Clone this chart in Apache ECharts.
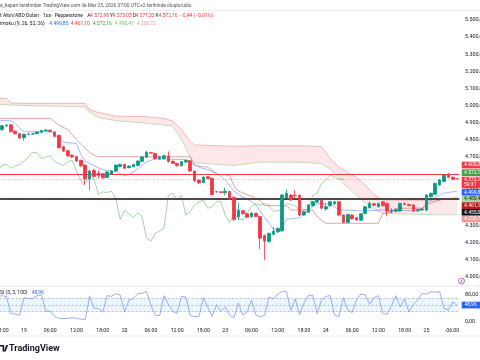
<!DOCTYPE html>
<html><head><meta charset="utf-8">
<script src="https://cdn.jsdelivr.net/npm/echarts@6/dist/echarts.min.js"></script>
<style>html,body{margin:0;padding:0;background:#fff;overflow:hidden;width:480px;height:360px;position:relative}#c{position:absolute;left:-5px;top:0;width:485px;height:360px}</style>
</head><body><div id="c"></div>
<script>
// trading sessions shown (day, first hour, last hour) -> hourly categories
const sessions = [['18',17,22],['19',0,22],['20',0,22],['23',0,22],['24',0,22],['25',0,7]];
const categories = [];
sessions.forEach(([d,a,b])=>{for(let h=a;h<=b;h++)categories.push(d+' '+String(h).padStart(2,'0')+':00');});
const timeTicks = ['00:00','06:00','12:00','18:00'];

// candles [open, close, low, high]
const ohlc = [
[4862,4878,4855,4884],[4860,4882,4852,4888],[4882,4886,4876,4892],[4888,4848,4842,4894],[4850,4836,4830,4856],
[4836,4810,4804,4840],[4812,4832,4796,4836],[4832,4834,4826,4840],[4834,4836,4830,4840],[4836,4846,4832,4850],
[4844,4854,4840,4858],[4853,4857,4850,4862],[4856,4848,4844,4860],[4846,4820,4814,4850],[4826,4754,4748,4830],
[4760,4734,4728,4764],[4736,4707,4698,4740],[4710,4700,4694,4714],[4702,4676,4670,4706],[4680,4648,4642,4684],
[4652,4572,4536,4656],[4572,4617,4506,4625],[4620,4586,4580,4630],[4606,4592,4575,4622],[4602,4578,4572,4606],
[4580,4612,4576,4616],[4600,4618,4596,4622],[4618,4652,4614,4656],[4644,4656,4640,4660],[4656,4634,4630,4660],
[4637,4647,4633,4651],[4643,4656,4640,4660],[4650,4676,4646,4680],[4674,4700,4670,4704],[4698,4728,4694,4735],
[4726,4722,4718,4730],[4720,4690,4686,4724],[4688,4700,4684,4704],[4690,4707,4686,4712],[4706,4672,4668,4732],
[4674,4662,4658,4680],[4662,4648,4644,4666],[4648,4672,4644,4676],[4670,4680,4666,4684],[4678,4617,4612,4682],
[4617,4560,4554,4620],[4565,4548,4542,4569],[4550,4582,4546,4586],[4584,4574,4570,4588],[4575,4480,4474,4580],
[4498,4496,4490,4502],[4496,4492,4488,4500],[4490,4500,4475,4520],[4498,4456,4450,4502],[4464,4335,4325,4468],
[4350,4388,4330,4430],[4386,4368,4362,4390],[4368,4348,4342,4372],[4350,4372,4346,4376],[4370,4352,4346,4374],
[4352,4225,4160,4356],[4240,4208,4097,4246],[4206,4253,4198,4258],[4248,4266,4240,4290],[4262,4282,4255,4288],
[4268,4477,4262,4482],[4460,4487,4455,4510],[4477,4448,4444,4482],[4476,4474,4460,4506],[4476,4360,4354,4480],
[4360,4380,4356,4384],[4376,4419,4372,4424],[4415,4438,4410,4442],[4436,4446,4430,4450],[4446,4400,4394,4450],
[4396,4409,4385,4428],[4415,4438,4410,4442],[4426,4438,4420,4442],[4438,4360,4355,4442],[4360,4317,4312,4364],
[4317,4364,4313,4368],[4360,4338,4334,4364],[4345,4331,4326,4350],[4330,4368,4326,4372],[4370,4409,4366,4414],
[4403,4428,4398,4440],[4426,4418,4412,4430],[4409,4428,4405,4432],[4438,4415,4410,4442],[4428,4382,4352,4432],
[4380,4386,4370,4400],[4382,4392,4376,4396],[4384,4428,4380,4432],[4428,4422,4418,4432],[4422,4416,4412,4426],
[4419,4384,4380,4424],[4386,4392,4380,4396],[4390,4396,4385,4400],[4389,4477,4385,4482],[4467,4487,4462,4492],
[4482,4545,4478,4550],[4536,4565,4532,4570],[4556,4594,4552,4600],[4598,4581,4576,4606],[4581,4569,4564,4586],
[4572.98,4572.16,4571.33,4573.03]
];

// lagging span (drawn 26 bars back), one value per bar from the left edge
const chikou = [4618,4652,4656,4634,4647,4656,4676,4700,4728,4722,4690,4700,4707,4672,4662,4648,4672,4680,4617,4560,
4548,4582,4574,4480,4496,4492,4500,4456,4335,4388,4368,4348,4372,4352,4225,4208,4253,4266,4282,4477,
4487,4448,4474,4360,4380,4419,4438,4446,4400,4409,4438,4438,4360,4317,4364,4338,4331,4368,4409,4428,
4418,4428,4415,4382,4386,4392,4428,4422,4416,4384,4392,4396,4477,4487,4545,4565,4594,4581,4569,4572.16];

// conversion line (bar index, price)
const tenkan = [[0,4912],[3,4912],[4,4895],[5,4868],[6,4847],[12,4847],[13,4830],[15,4785],[18,4779],[19,4715],[20,4675],
[23,4635],[25,4620],[27,4614],[29,4590],[30,4598],[32,4630],[34,4670],[36,4688],[43,4684],[44,4672],[46,4640],[48,4625],
[50,4605],[52,4565],[54,4500],[56,4465],[58,4440],[59,4420],[61,4345],[63,4280],[64,4265],[65,4280],[66,4335],[69,4345],
[71,4390],[73,4428],[76,4425],[78,4390],[80,4388],[84,4384],[88,4390],[91,4389],[96,4384],[97,4400],[98,4425],[100,4465],
[102,4488],[105,4500]];

// base line (bar index, price)
const kijun = [[0,4925],[12,4925],[13,4905],[14,4885],[16,4860],[17,4830],[18,4800],[19,4775],[20,4750],[21,4725],[22,4710],
[23,4701],[44,4701],[45,4650],[48,4640],[49,4620],[50,4600],[53,4592],[54,4530],[55,4500],[58,4470],[60,4445],[61,4415],
[66,4415],[67,4390],[72,4390],[73,4350],[75,4312],[87,4312],[88,4368],[90,4378],[91,4400],[97,4400],[98,4420],[100,4440],
[102,4455],[105,4461]];

// cloud edges at bar indices
const cloudK = [0,2,3,6,20,21,23,27,34,38,40,42,44,45,54,60,70,74,76,78,80,82,84,86,88,99,105];
const spanB  = [5042,5042,5015,5013,5013,4975,4960,4938,4935,4925,4910,4860,4790,4770,4762,4765,4765,4760,4690,4640,4610,4580,4536,4480,4448,4446,4456];
const spanA  = [5007,5005,5003,5000,4993,4960,4930,4912,4896,4886,4880,4800,4700,4665,4650,4670,4668,4660,4630,4575,4520,4478,4430,4395,4370,4362,4362];

// oscillator
const rsi = [75,78,75,25,23,19,72,69,70,78, 80,31,32,16,10,9,10,12,10,8, 6,76,40,40,29,78,76,84,80,29,
65,69,84,85,90,50,19,18,78,52, 31,25,76,74,19,15,16,72,44,16, 51,31,44,20,12,56,20,29,65,20,
14,19,74,68,83,90,90,33,68,21, 56,78,80,25,65,76,78,19,16,72, 35,27,65,83,80,52,72,78,25,22,
48,78,44,68,29,51,65,85,82,90, 88,90,40,35,59,48.96];
const rsiBands = [30,50,70];

// horizontal levels
const levels = {resistance:4600, lastPrice:4572.16, faint:4472, support:4455};
// right-hand price tags
const tagValues = [4600, 4572.16, 4572.16, 4499.85, 4480.47, 4461.10, 4455, 4350.72];

function fmt(v){const s=Number(v).toFixed(2);let [i,d]=s.split('.');i=i.replace(/\B(?=(\d{3})+(?!\d))/g,'.');return i+','+d;}

const FONT = 'Roboto, "Noto Sans", sans-serif';
const OX = 5;                 // chart canvas is shifted 5px left of the page
const GL = 0.56, GR = 20.7;
const chart = echarts.init(document.getElementById('c'));

const txt=(text,x,y,fill,size,weight,z)=>({type:'text',x:x+OX,y:y,z:z||60,silent:true,
  style:{text:text,fill:fill,font:(weight||'normal')+' '+(size||5)+'px '+FONT,verticalAlign:'middle',align:'left'}});
const hline=(y,color,w)=>({type:'line',z:40,silent:true,shape:{x1:0,y1:y,x2:485,y2:y},style:{stroke:color,lineWidth:w||1}});
const rect=(x,y,w,h,fill,z)=>({type:'rect',z:z||60,silent:true,shape:{x:x+OX,y:y,width:w+2,height:h},style:{fill:fill}});

const tagStyles = [
 {top:161.7,h:6.7,fill:'#f23645',c:'#fff'},
 {top:169.3,h:6.7,fill:'#43a047',c:'#fff'},
 {top:176.7,h:11.6,fill:'#f23645',c:'#fff',extra:'59:31'},
 {top:189.0,h:6.7,fill:'#2962ff',c:'#fff'},
 {top:195.7,h:6.7,fill:'#a5d6a7',c:'#131722'},
 {top:202.3,h:6.7,fill:'#b71c1c',c:'#fff'},
 {top:209.0,h:6.7,fill:'#131722',c:'#fff'},
 {top:215.7,h:6.7,fill:'#ef9a9a',c:'#fff'}
];
const pt=(x,y)=>[x+OX,y];
const graphics = [
  hline(10.5,'#eceef2',1), hline(286,'#e0e3eb',1), hline(336,'#eceef2',1),
  txt('a_kapan tarafından TradingView.com ile Mar 25, 2026 07:00 UTC+2 tarihinde oluşturuldu',0,6,'#50535e',4.9),
  txt('t Altın/ABD Doları · 1sa · Pepperstone',0,16,'#131722',5),
  txt('A',87.3,16,'#131722',5), txt(fmt(ohlc[105][0]),90,16,'#f23645',5),
  txt('Y',110,16,'#131722',5), txt(fmt(ohlc[105][3]),112.6,16,'#f23645',5),
  txt('D',132.7,16,'#131722',5), txt(fmt(ohlc[105][2]),135.5,16,'#f23645',5),
  txt('K',155.6,16,'#131722',5), txt(fmt(ohlc[105][1]),158.4,16,'#f23645',5),
  txt('−0,44 (−0,01%)',180,16,'#f23645',5),
  txt('imoku (9, 26, 52, 26)',0,24,'#131722',5),
  txt(fmt(4499.85),49.3,24,'#2962ff',5), txt(fmt(4461.10),70.7,24,'#e53935',5),
  txt(fmt(4572.16),92.7,24,'#43a047',5), txt(fmt(4480.47),114.7,24,'#81c784',5),
  txt(fmt(4350.72),136.7,24,'#ef9a9a',5),
  txt('SI (3, 3, 100)',0,292.3,'#131722',5), txt('48,96',31.7,292.3,'#2962ff',5),
  rect(461.7,301.7,18.3,6.7,'#2962ff',70),
  txt('48,96',464.5,305.05,'#fff',5,'normal',80),
  {type:'circle',z:60,silent:true,shape:{cx:461.5+OX,cy:281,r:3},style:{fill:'#fff',stroke:'#ab47bc',lineWidth:0.8}},
  {type:'polyline',z:61,silent:true,shape:{points:[pt(462.3,279.2),pt(460.8,281.2),pt(462.2,281),pt(460.8,282.9)]},style:{stroke:'#ab47bc',lineWidth:0.7,fill:null}},
  {type:'polygon',z:60,silent:true,shape:{points:[pt(0,345),pt(4.2,345),pt(4.2,351.5),pt(2.6,351.5),pt(2.6,346.6),pt(0,346.6)]},style:{fill:'#131722'}},
  {type:'polygon',z:60,silent:true,shape:{points:[pt(6.3,345),pt(8.2,345),pt(5.6,351.5),pt(3.8,351.5)]},style:{fill:'#131722'}},
  txt('TradingView',9,348.3,'#131722',9,'bold')
];
tagStyles.forEach((s,i)=>{
  graphics.push(rect(461.7,s.top,18.3,s.h,s.fill,70));
  if(s.extra){
    graphics.push(txt(fmt(tagValues[i]),464,s.top+3.1,s.c,5,'normal',80));
    graphics.push(txt(s.extra,464,s.top+8.5,s.c,5,'normal',80));
  } else graphics.push(txt(fmt(tagValues[i]),464,s.top+s.h/2,s.c,5,'normal',80));
});

const option = {
  animation:false,
  backgroundColor:'#ffffff',
  textStyle:{fontFamily:FONT},
  grid:[{left:GL,right:GR,top:2.9,height:290.9,containLabel:false,outerBoundsMode:'none'},
        {left:GL,right:GR,top:288.3,height:33.4,containLabel:false,outerBoundsMode:'none'}],
  xAxis:[
    {type:'category',gridIndex:0,data:categories,boundaryGap:true,axisLine:{show:false},axisTick:{show:false},axisLabel:{show:false},splitLine:{show:false}},
    {type:'category',gridIndex:1,data:categories,boundaryGap:true,axisLine:{show:false},axisTick:{show:false},splitLine:{show:false},
     axisLabel:{show:true,fontSize:5.2,color:'#131722',margin:6,fontFamily:FONT,hideOverlap:false,
       interval:(i,v)=>timeTicks.includes(v.split(' ')[1]),
       formatter:(v)=>{const p=v.split(' ');return p[1]==='00:00'?p[0]:p[1];}}}
  ],
  yAxis:[
    {type:'value',gridIndex:0,position:'right',min:3900,max:5600,interval:100,
     axisLine:{show:false},axisTick:{show:false},splitLine:{show:false},
     axisLabel:{fontSize:5.4,color:'#131722',margin:5.7,fontFamily:FONT,align:'left',
       formatter:(v)=>(v>=4000&&v<=5500)?fmt(v):''}},
    {type:'value',gridIndex:1,position:'right',min:0,max:100,interval:20,
     axisLine:{show:false},axisTick:{show:false},splitLine:{show:false},
     axisLabel:{fontSize:5.4,color:'#131722',margin:5.7,fontFamily:FONT,align:'left',
       formatter:(v)=>(v===0||v===80)?fmt(v):''}}
  ],
  series:[
    {type:'custom',name:'cloud',xAxisIndex:0,yAxisIndex:0,z:1,silent:true,
     data:cloudK.map((k,i)=>[k,spanB[i],spanA[i]]),encode:{x:0,y:[1,2]},
     renderItem:(params,api)=>{
       if(params.dataIndex!==0) return null;
       const pts=[];
       for(let i=0;i<cloudK.length;i++) pts.push(api.coord([cloudK[i],spanB[i]]));
       for(let i=cloudK.length-1;i>=0;i--) pts.push(api.coord([cloudK[i],spanA[i]]));
       return {type:'polygon',shape:{points:pts},style:{fill:'rgba(242,54,69,0.12)'}};
     }},
    {type:'line',name:'spanB',data:cloudK.map((k,i)=>[k,spanB[i]]),symbol:'none',silent:true,z:2,lineStyle:{color:'rgba(239,154,154,0.85)',width:0.8}},
    {type:'line',name:'spanA',data:cloudK.map((k,i)=>[k,spanA[i]]),symbol:'none',silent:true,z:2,lineStyle:{color:'rgba(165,214,167,0.9)',width:0.8}},
    {type:'line',name:'chikou',data:chikou,symbol:'none',silent:true,z:3,lineStyle:{color:'rgba(67,160,71,0.6)',width:0.8}},
    {type:'line',name:'kijun',data:kijun,symbol:'none',silent:true,z:3,lineStyle:{color:'rgba(183,28,28,0.5)',width:0.8}},
    {type:'line',name:'tenkan',data:tenkan,symbol:'none',silent:true,z:3,lineStyle:{color:'rgba(41,98,255,0.55)',width:0.8}},
    {type:'candlestick',name:'XAUUSD',data:ohlc,barWidth:3.2,z:5,silent:true,
     itemStyle:{color:'#089981',color0:'#f23645',borderColor:'#089981',borderColor0:'#f23645',borderWidth:0.8},
     markLine:{symbol:['none','none'],silent:true,label:{show:false},animation:false,
       data:[
         {yAxis:levels.resistance,lineStyle:{color:'#f23645',width:1.1,type:'solid'}},
         {yAxis:levels.lastPrice,lineStyle:{color:'rgba(242,54,69,0.55)',width:0.7,type:[1,1.5]}},
         {yAxis:levels.faint,lineStyle:{color:'rgba(242,54,69,0.25)',width:0.7,type:[1,1.5]}},
         {yAxis:levels.support,lineStyle:{color:'#4a4a4a',width:1.8,type:'solid'}}
       ]}},
    {type:'line',name:'RSI',xAxisIndex:1,yAxisIndex:1,data:rsi,symbol:'none',silent:true,z:5,
     lineStyle:{color:'#7b9cf5',width:0.8},
     markArea:{silent:true,itemStyle:{color:'rgba(33,150,243,0.09)'},data:[[{yAxis:rsiBands[0]},{yAxis:rsiBands[2]}]]},
     markLine:{symbol:['none','none'],silent:true,label:{show:false},animation:false,
       lineStyle:{color:'#9598a1',width:0.6,type:[2,2]},data:rsiBands.map(v=>({yAxis:v}))}}
  ],
  graphic:{elements:graphics}
};
chart.setOption(option);
</script></body></html>
